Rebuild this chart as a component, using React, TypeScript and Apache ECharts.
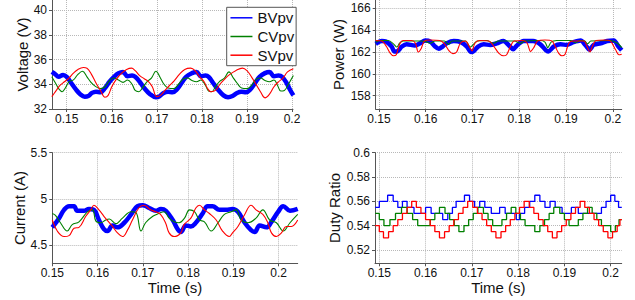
import React, { useEffect, useRef } from 'react';
import * as echarts from 'echarts';

const timeTicks = [0.15, 0.16, 0.17, 0.18, 0.19, 0.2];
const voltageTicks = [32, 34, 36, 38, 40];
const powerTicks = [158, 160, 162, 164, 166];
const currentTicks = [4.5, 5, 5.5];
const dutyTicks = [0.52, 0.54, 0.56, 0.58, 0.6];
const seriesNames = ['BVpv', 'CVpv', 'SVpv'];

// Voltage (V)
const voltageB = [[0.1467,35.0],[0.1475,34.8],[0.1482,34.6],[0.1492,34.75],[0.1500,34.6],[0.1510,34.1],[0.1520,33.6],[0.1530,33.2],[0.1540,33.0],[0.1548,33.05],[0.1556,33.3],[0.1565,33.4],[0.1575,33.35],[0.1585,33.7],[0.1595,34.2],[0.1605,34.6],[0.1615,34.9],[0.1625,35.0],[0.1635,34.65],[0.1645,34.7],[0.1652,34.6],[0.1662,34.2],[0.1672,33.7],[0.1685,33.2],[0.1698,32.95],[0.1705,33.0],[0.1715,33.3],[0.1725,33.4],[0.1735,33.35],[0.1745,33.6],[0.1755,34.1],[0.1765,34.6],[0.1778,34.9],[0.1788,35.0],[0.1798,34.65],[0.1808,34.7],[0.1815,34.6],[0.1825,34.1],[0.1835,33.6],[0.1848,33.1],[0.1858,32.95],[0.1868,33.05],[0.1878,33.3],[0.1888,33.4],[0.1898,33.35],[0.1908,33.6],[0.1918,34.1],[0.1928,34.6],[0.1940,34.9],[0.1950,35.0],[0.1960,34.65],[0.1970,34.7],[0.1978,34.6],[0.1988,34.1],[0.1995,33.6],[0.2003,33.1]];
const voltageC = [[0.1467,34.6],[0.1475,34.1],[0.1483,33.6],[0.1490,33.4],[0.1497,33.7],[0.1505,34.2],[0.1515,34.35],[0.1525,34.8],[0.1535,35.05],[0.1545,34.6],[0.1553,34.2],[0.1563,33.85],[0.1575,33.65],[0.1585,33.8],[0.1595,34.3],[0.1605,34.5],[0.1615,34.35],[0.1625,34.15],[0.1635,34.35],[0.1645,34.0],[0.1652,33.5],[0.1660,33.4],[0.1668,33.7],[0.1678,34.2],[0.1688,34.5],[0.1698,35.05],[0.1708,34.5],[0.1716,34.0],[0.1725,33.7],[0.1738,33.65],[0.1748,34.0],[0.1758,34.4],[0.1768,34.5],[0.1778,34.3],[0.1788,34.2],[0.1798,34.35],[0.1808,33.9],[0.1815,33.45],[0.1822,33.4],[0.1830,33.8],[0.1840,34.25],[0.1850,34.5],[0.1860,35.0],[0.1870,34.5],[0.1878,34.1],[0.1888,33.7],[0.1900,33.65],[0.1910,33.9],[0.1920,34.4],[0.1930,34.5],[0.1940,34.3],[0.1950,34.2],[0.1960,34.35],[0.1968,33.9],[0.1975,33.45],[0.1983,33.5],[0.1992,34.0],[0.2003,34.7]];
const voltageS = [[0.1467,33.0],[0.1475,33.4],[0.1485,33.9],[0.1495,34.2],[0.1505,34.5],[0.1515,34.9],[0.1525,35.2],[0.1537,35.35],[0.1545,35.3],[0.1555,34.8],[0.1565,34.1],[0.1575,33.5],[0.1585,32.95],[0.1592,33.1],[0.1600,33.8],[0.1610,34.4],[0.1622,34.9],[0.1633,35.2],[0.1644,35.3],[0.1652,35.1],[0.1662,34.7],[0.1672,34.45],[0.1682,34.2],[0.1690,33.8],[0.1700,33.0],[0.1708,33.1],[0.1718,33.5],[0.1728,33.9],[0.1738,34.25],[0.1750,34.8],[0.1762,35.2],[0.1775,35.3],[0.1785,35.1],[0.1795,34.6],[0.1805,34.2],[0.1812,33.7],[0.1820,33.4],[0.1830,33.5],[0.1840,34.0],[0.1850,34.4],[0.1862,34.8],[0.1875,35.1],[0.1890,35.3],[0.1900,35.1],[0.1910,34.6],[0.1920,34.0],[0.1930,33.4],[0.1940,32.9],[0.1950,33.2],[0.1960,33.8],[0.1970,34.2],[0.1980,34.5],[0.1990,35.0],[0.2003,35.25]];

// Power (W)
const powerB = [[0.1493,162.75],[0.1506,163.0],[0.1515,162.95],[0.1527,162.5],[0.1533,162.05],[0.1538,162.05],[0.1549,162.5],[0.1559,162.7],[0.1577,162.6],[0.1588,162.8],[0.1599,163.05],[0.1610,162.95],[0.1620,162.5],[0.1628,162.3],[0.1636,162.5],[0.1645,162.8],[0.1660,163.0],[0.1675,162.9],[0.1688,162.5],[0.1697,162.0],[0.1703,162.1],[0.1712,162.5],[0.1724,162.7],[0.1738,162.65],[0.1752,162.8],[0.1766,163.0],[0.1778,162.6],[0.1787,162.25],[0.1795,162.6],[0.1809,163.0],[0.1830,163.0],[0.1845,162.7],[0.1856,162.2],[0.1862,162.05],[0.1874,162.5],[0.1888,162.7],[0.1902,162.65],[0.1916,162.9],[0.1931,163.05],[0.1942,162.6],[0.1950,162.2],[0.1959,162.65],[0.1974,162.8],[0.1988,163.0],[0.2002,163.05],[0.2012,162.5],[0.2019,162.15]];
const powerC = [[0.1493,162.9],[0.1502,163.05],[0.1520,163.05],[0.1532,162.7],[0.1538,162.45],[0.1544,162.8],[0.1552,163.0],[0.1590,163.0],[0.1600,162.95],[0.1609,162.8],[0.1620,163.0],[0.1640,163.0],[0.1649,162.7],[0.1656,163.0],[0.1685,163.0],[0.1695,162.45],[0.1702,162.7],[0.1710,163.0],[0.1730,163.05],[0.1745,162.8],[0.1755,163.0],[0.1790,163.0],[0.1802,162.8],[0.1812,163.0],[0.1845,163.05],[0.1855,162.9],[0.1861,162.4],[0.1868,162.9],[0.1880,163.05],[0.1910,163.05],[0.1920,162.85],[0.1930,163.05],[0.1940,163.0],[0.1946,162.75],[0.1953,163.0],[0.1995,163.05],[0.2010,162.8],[0.2019,162.4]];
const powerS = [[0.1493,163.05],[0.1506,163.0],[0.1516,162.5],[0.1524,161.9],[0.1531,161.65],[0.1537,161.75],[0.1545,162.8],[0.1552,163.05],[0.1570,163.05],[0.1578,162.8],[0.1584,162.0],[0.1590,162.3],[0.1597,163.0],[0.1609,163.1],[0.1630,163.05],[0.1640,162.75],[0.1650,162.1],[0.1658,161.85],[0.1666,162.0],[0.1674,162.8],[0.1685,163.0],[0.1693,162.5],[0.1699,162.1],[0.1705,162.8],[0.1715,163.05],[0.1735,163.0],[0.1746,162.5],[0.1756,161.9],[0.1766,161.65],[0.1773,161.75],[0.1781,162.5],[0.1789,163.0],[0.1808,163.05],[0.1817,162.8],[0.1824,162.05],[0.1831,162.4],[0.1839,163.0],[0.1855,163.1],[0.1870,163.0],[0.1877,162.5],[0.1884,161.9],[0.1891,161.65],[0.1898,161.8],[0.1906,162.8],[0.1915,163.0],[0.1938,163.0],[0.1945,162.5],[0.1951,162.0],[0.1957,162.6],[0.1964,163.05],[0.1982,163.1],[0.1995,163.0],[0.2006,162.2],[0.2013,161.75],[0.2019,161.8]];

// Current (A)
const currentB = [[0.1500,4.69],[0.1515,4.79],[0.1526,4.88],[0.1537,4.92],[0.1548,4.92],[0.1555,4.87],[0.1570,4.87],[0.1581,4.89],[0.1592,4.88],[0.1603,4.77],[0.1614,4.67],[0.1622,4.65],[0.1633,4.71],[0.1644,4.69],[0.1659,4.74],[0.1674,4.83],[0.1688,4.92],[0.1700,4.93],[0.1714,4.90],[0.1729,4.87],[0.1740,4.89],[0.1751,4.87],[0.1766,4.77],[0.1777,4.67],[0.1784,4.64],[0.1795,4.71],[0.1806,4.70],[0.1817,4.74],[0.1832,4.84],[0.1843,4.92],[0.1854,4.92],[0.1869,4.88],[0.1884,4.88],[0.1898,4.89],[0.1910,4.86],[0.1925,4.74],[0.1939,4.66],[0.1947,4.64],[0.1958,4.71],[0.1973,4.69],[0.1984,4.75],[0.1999,4.86],[0.2010,4.92],[0.2025,4.87],[0.2042,4.89]];
const currentC = [[0.1500,4.84],[0.1507,4.82],[0.1518,4.74],[0.1533,4.65],[0.1544,4.72],[0.1559,4.75],[0.1578,4.86],[0.1589,4.88],[0.1596,4.76],[0.1607,4.74],[0.1618,4.77],[0.1626,4.78],[0.1640,4.73],[0.1655,4.79],[0.1674,4.86],[0.1685,4.85],[0.1696,4.65],[0.1706,4.74],[0.1722,4.81],[0.1735,4.84],[0.1747,4.86],[0.1758,4.79],[0.1769,4.75],[0.1780,4.74],[0.1792,4.79],[0.1803,4.88],[0.1814,4.86],[0.1825,4.77],[0.1836,4.75],[0.1851,4.65],[0.1866,4.74],[0.1880,4.83],[0.1895,4.86],[0.1906,4.88],[0.1917,4.77],[0.1932,4.74],[0.1950,4.79],[0.1965,4.88],[0.1980,4.77],[0.1995,4.74],[0.2010,4.65],[0.2025,4.74],[0.2042,4.83]];
const currentS = [[0.1500,4.77],[0.1511,4.65],[0.1526,4.59],[0.1537,4.60],[0.1548,4.68],[0.1559,4.69],[0.1574,4.81],[0.1585,4.88],[0.1592,4.93],[0.1603,4.88],[0.1614,4.81],[0.1633,4.70],[0.1644,4.63],[0.1655,4.59],[0.1666,4.66],[0.1677,4.77],[0.1691,4.90],[0.1702,4.93],[0.1717,4.88],[0.1728,4.86],[0.1739,4.83],[0.1750,4.74],[0.1758,4.63],[0.1769,4.59],[0.1784,4.63],[0.1791,4.72],[0.1806,4.79],[0.1817,4.90],[0.1825,4.93],[0.1836,4.88],[0.1847,4.84],[0.1862,4.77],[0.1876,4.65],[0.1891,4.59],[0.1898,4.63],[0.1910,4.70],[0.1925,4.83],[0.1939,4.93],[0.1950,4.88],[0.1965,4.83],[0.1976,4.74],[0.1984,4.63],[0.1995,4.59],[0.2006,4.63],[0.2017,4.70],[0.2028,4.70],[0.2042,4.77]];

// Duty ratio (step changes: [time of change, new value])
const dutyB = [[0.1491,0.555],[0.1500,0.56],[0.1518,0.565],[0.1530,0.56],[0.1540,0.555],[0.1550,0.56],[0.1560,0.555],[0.1575,0.55],[0.1600,0.555],[0.1612,0.55],[0.1637,0.545],[0.1648,0.55],[0.1658,0.555],[0.1666,0.56],[0.1684,0.565],[0.1695,0.56],[0.1706,0.555],[0.1717,0.56],[0.1728,0.555],[0.1742,0.55],[0.1760,0.555],[0.1772,0.55],[0.1796,0.545],[0.1803,0.55],[0.1814,0.555],[0.1825,0.56],[0.1836,0.565],[0.1847,0.56],[0.1858,0.555],[0.1869,0.56],[0.1880,0.555],[0.1895,0.55],[0.1915,0.555],[0.1930,0.55],[0.1969,0.55],[0.1980,0.555],[0.1990,0.56],[0.2000,0.565],[0.2009,0.56],[0.2017,0.555],[0.2024,0.555]];
const dutyC = [[0.1491,0.55],[0.1500,0.545],[0.1510,0.54],[0.1523,0.545],[0.1535,0.55],[0.1548,0.555],[0.1560,0.55],[0.1572,0.545],[0.1583,0.54],[0.1610,0.545],[0.1620,0.55],[0.1630,0.555],[0.1642,0.55],[0.1652,0.545],[0.1662,0.54],[0.1672,0.535],[0.1683,0.54],[0.1693,0.545],[0.1703,0.55],[0.1713,0.555],[0.1725,0.55],[0.1735,0.545],[0.1745,0.54],[0.1765,0.545],[0.1775,0.55],[0.1785,0.555],[0.1795,0.55],[0.1805,0.545],[0.1815,0.54],[0.1836,0.535],[0.1847,0.54],[0.1857,0.545],[0.1867,0.55],[0.1877,0.555],[0.1890,0.55],[0.1900,0.545],[0.1910,0.54],[0.1930,0.545],[0.1940,0.55],[0.1950,0.555],[0.1960,0.55],[0.1970,0.545],[0.1980,0.54],[0.2000,0.535],[0.2010,0.54],[0.2018,0.545],[0.2024,0.545]];
const dutyS = [[0.1491,0.54],[0.1500,0.535],[0.1509,0.53],[0.1520,0.535],[0.1530,0.54],[0.1540,0.545],[0.1550,0.55],[0.1560,0.555],[0.1570,0.56],[0.1580,0.555],[0.1590,0.55],[0.1600,0.545],[0.1610,0.54],[0.1620,0.535],[0.1630,0.53],[0.1641,0.535],[0.1651,0.54],[0.1661,0.545],[0.1671,0.55],[0.1681,0.555],[0.1691,0.56],[0.1702,0.555],[0.1712,0.55],[0.1722,0.545],[0.1732,0.54],[0.1742,0.535],[0.1752,0.53],[0.1763,0.535],[0.1773,0.54],[0.1783,0.545],[0.1793,0.55],[0.1803,0.555],[0.1813,0.56],[0.1824,0.555],[0.1834,0.55],[0.1844,0.545],[0.1854,0.54],[0.1864,0.535],[0.1874,0.53],[0.1884,0.535],[0.1894,0.54],[0.1904,0.545],[0.1914,0.55],[0.1924,0.555],[0.1934,0.56],[0.1944,0.555],[0.1954,0.55],[0.1964,0.545],[0.1974,0.54],[0.1984,0.535],[0.1994,0.53],[0.2004,0.535],[0.2014,0.54],[0.2020,0.545],[0.2024,0.545]];

const FONT = '"Liberation Sans", Arial, Helvetica, sans-serif';
const AXIS_COLOR = '#555';
const TEXT_COLOR = '#111';
const COLORS = ['#0000ff', '#008000', '#ff0000'];

function fmt(v: number) {
  return String(Math.round(v * 1000) / 1000);
}

function makeX(gridIndex: number, min: number, max: number, withName: boolean) {
  return {
    type: 'value', gridIndex, min, max,
    axisLine: { show: true, onZero: false, lineStyle: { color: AXIS_COLOR, width: 1 } },
    axisTick: { show: true, length: 3, customValues: timeTicks, lineStyle: { color: AXIS_COLOR } },
    axisLabel: { customValues: timeTicks, margin: 4, fontSize: 12, color: TEXT_COLOR, fontFamily: FONT, formatter: fmt },
    splitLine: { show: true, lineStyle: { type: 'dotted', color: '#b8b8b8', width: 1 } },
    name: withName ? 'Time (s)' : '',
    nameLocation: 'middle', nameGap: 14,
    nameTextStyle: { fontSize: 15, color: TEXT_COLOR, fontFamily: FONT },
  };
}

function makeY(gridIndex: number, min: number, max: number, ticks: number[], name: string, nameGap: number) {
  return {
    type: 'value', gridIndex, min, max,
    axisLine: { show: true, onZero: false, lineStyle: { color: AXIS_COLOR, width: 1 } },
    axisTick: { show: true, length: 3, customValues: ticks, lineStyle: { color: AXIS_COLOR } },
    axisLabel: { customValues: ticks, margin: 5, fontSize: 12, color: TEXT_COLOR, fontFamily: FONT, formatter: fmt },
    splitLine: { show: true, lineStyle: { type: 'dotted', color: '#b8b8b8', width: 1 } },
    name, nameLocation: 'middle', nameGap,
    nameTextStyle: { fontSize: 15, color: TEXT_COLOR, fontFamily: FONT },
  };
}

function lineSeries(name: string, idx: number, data: number[][], colorIdx: number, width: number, extra: any = {}) {
  return {
    type: 'line', name, xAxisIndex: idx, yAxisIndex: idx, data,
    showSymbol: false, symbol: 'none',
    lineStyle: { color: COLORS[colorIdx], width },
    itemStyle: { color: COLORS[colorIdx] },
    ...extra,
  };
}

export default function App() {
  const ref = useRef<HTMLDivElement>(null);
  useEffect(() => {
    if (!ref.current) return;
    const chart = echarts.init(ref.current, null, { renderer: 'svg' });
    const option: any = {
      animation: false,
      backgroundColor: '#fff',
      grid: [
        { left: 52, top: 0, width: 241, height: 109 },
        { left: 375.7, top: 0, width: 246, height: 109 },
        { left: 52.3, top: 152.7, width: 245.4, height: 110.6 },
        { left: 375, top: 152.7, width: 246.7, height: 110.6 },
      ],
      xAxis: [
        makeX(0, 0.14674, 0.20022, false),
        makeX(1, 0.1493, 0.2019, false),
        makeX(2, 0.15, 0.2042, true),
        makeX(3, 0.14907, 0.20238, true),
      ],
      yAxis: [
        makeY(0, 32, 40.81, voltageTicks, 'Voltage (V)', 20),
        makeY(1, 156.78, 166.76, powerTicks, 'Power (W)', 30),
        makeY(2, 4.3, 5.5, currentTicks, 'Current (A)', 25),
        makeY(3, 0.509, 0.6, dutyTicks, 'Duty Ratio', 33),
      ],
      legend: {
        data: seriesNames,
        orient: 'vertical',
        left: 226.7, top: 7.3,
        backgroundColor: '#fff',
        borderColor: '#555', borderWidth: 1,
        padding: [2.5, 2, 2.5, 3],
        itemWidth: 22, itemHeight: 14, itemGap: 2.7,
        itemStyle: { opacity: 0 },
        lineStyle: { width: 1.5 },
        textStyle: { fontSize: 15, color: TEXT_COLOR, fontFamily: FONT, lineHeight: 16 },
      },
      series: [
        lineSeries(seriesNames[0], 0, voltageB, 0, 4.5, { smooth: 0.4 }),
        lineSeries(seriesNames[1], 0, voltageC, 1, 1.1, { smooth: 0.4 }),
        lineSeries(seriesNames[2], 0, voltageS, 2, 1.1, { smooth: 0.4 }),
        lineSeries(seriesNames[0], 1, powerB, 0, 4.5, { smooth: 0.3 }),
        lineSeries(seriesNames[1], 1, powerC, 1, 1.1, { smooth: 0.3 }),
        lineSeries(seriesNames[2], 1, powerS, 2, 1.1, { smooth: 0.3 }),
        lineSeries(seriesNames[0], 2, currentB, 0, 4.5, { smooth: 0.4 }),
        lineSeries(seriesNames[1], 2, currentC, 1, 1.1, { smooth: 0.4 }),
        lineSeries(seriesNames[2], 2, currentS, 2, 1.1, { smooth: 0.4 }),
        lineSeries(seriesNames[0], 3, dutyB, 0, 1.3, { step: 'end' }),
        lineSeries(seriesNames[1], 3, dutyC, 1, 1.3, { step: 'end' }),
        lineSeries(seriesNames[2], 3, dutyS, 2, 1.3, { step: 'end' }),
      ],
    };
    chart.setOption(option);
    return () => chart.dispose();
  }, []);
  return <div ref={ref} style={{ position: 'fixed', left: 0, top: 0, width: 635, height: 300 }} />;
}
